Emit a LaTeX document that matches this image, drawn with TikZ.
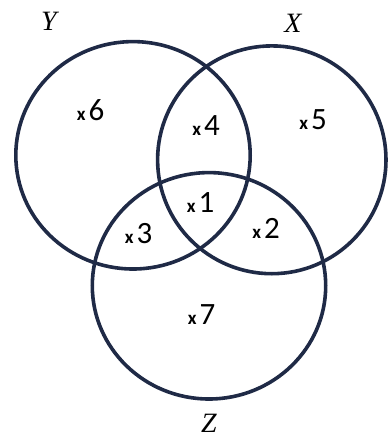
\documentclass[tikz,border=0pt]{standalone}
\usepackage{fontspec}
\setmainfont{Carlito}
\newfontfamily\lblfont{Liberation Serif}
\definecolor{navy}{RGB}{31,42,70}
\begin{document}
\begin{tikzpicture}[x=1pt,y=-1pt,
  ring/.style={draw=navy,line width=3.6pt},
  setlbl/.style={inner sep=0pt,font=\lblfont\itshape\fontsize{28}{32}\selectfont},
  elem/.style={inner sep=0pt,font=\fontsize{31}{34}\selectfont}]
\useasboundingbox (0,0) rectangle (388,437);
\draw[ring] (133,155.3) ellipse [x radius=117.2, y radius=113.7];
\draw[ring] (271.8,159.8) ellipse [x radius=114.2, y radius=113.9];
\draw[ring] (209,285.8) ellipse [x radius=116.7, y radius=113.2];
\newcommand{\mk}[1]{{\fontsize{19}{20}\selectfont\bfseries x}\hspace{3pt}#1}
\node[setlbl] (ly) at (49,21) {Y};
\node[setlbl] (lx) at (293,23) {X};
\node[setlbl] (lz) at (209,423) {Z};
\node[elem] (e6) at (90.5,110) {\mk{6}};
\node[elem] (e4) at (206,126) {\mk{4}};
\node[elem] (e5) at (313,120) {\mk{5}};
\node[elem] (e1) at (200.5,203) {\mk{1}};
\node[elem] (e3) at (138.7,234) {\mk{3}};
\node[elem] (e2) at (266,228) {\mk{2}};
\node[elem] (e7) at (201.7,315) {\mk{7}};
\end{tikzpicture}
\end{document}
